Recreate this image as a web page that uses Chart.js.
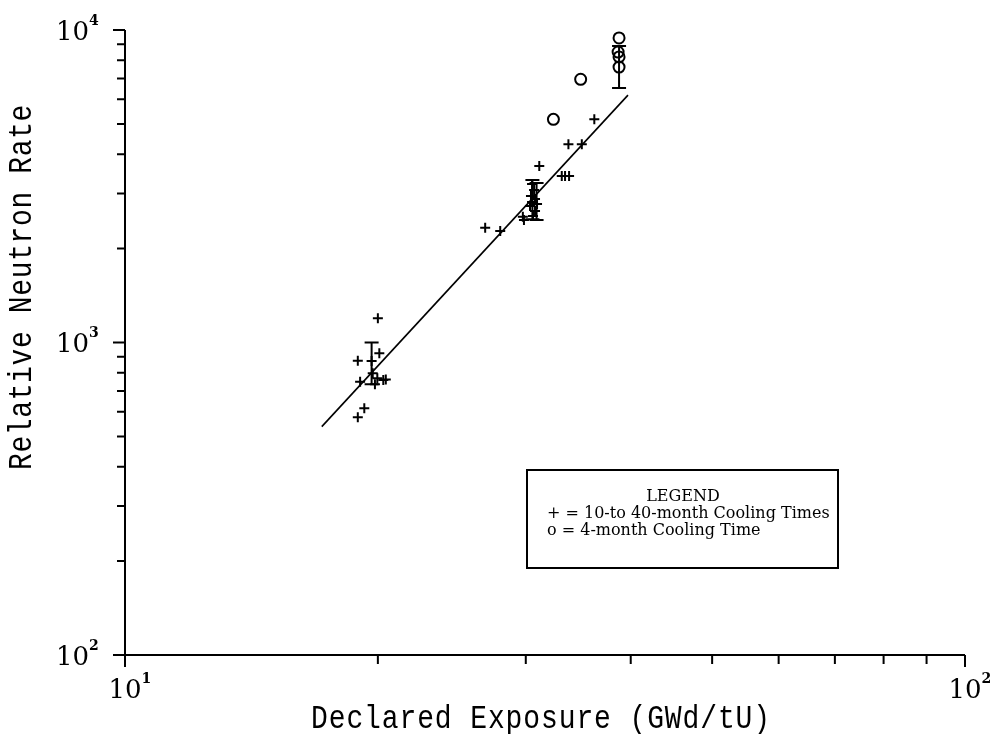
<!DOCTYPE html>
<html><head><meta charset="utf-8">
<script src="https://cdn.jsdelivr.net/npm/chart.js@4/dist/chart.umd.min.js"></script>
<style>html,body{margin:0;padding:0;background:#fff}canvas{display:block}</style>
</head><body>
<canvas id="c" width="990" height="734"></canvas>
<script>
// ---- data ----
const plusX = [20.0, 20.08, 18.93, 19.66, 19.72, 19.05, 19.84, 19.97, 20.30, 19.27, 18.93, 20.44,
               26.84, 27.97, 29.76, 29.85, 31.13, 33.11, 33.41, 33.78,
               30.52, 30.69, 30.43, 30.77, 30.52, 30.94, 30.35, 30.77, 30.60,
               36.20, 33.72, 34.98];
const plusY = [1195, 923, 874, 872, 797, 749, 735, 768, 759, 616, 576, 762,
               2330, 2275, 2527, 2466, 3671, 3410, 3410, 3410,
               3215, 3076, 2943, 2879, 2816, 2775, 2734, 2635, 2540,
               5178, 4307, 4307];
const circX = [32.36, 34.87, 38.74, 38.64, 38.74, 38.74];
const circY = [5178, 6954, 9430, 8500, 8200, 7610];
const errX = [19.66, 30.55, 30.90, 38.74];
const errLow = [735, 2480, 2466, 6520];
const errHigh = [1000, 3310, 3240, 8890];
const fitX = [17.15, 39.7];
const fitY = [538, 6190];
const xDecades = [10, 100];
const yDecades = [100, 1000, 10000];
const xTitle = 'Declared Exposure (GWd/tU)';
const yTitle = 'Relative Neutron Rate';
const legendTitle = 'LEGEND';
const legendLines = ['+ = 10-to 40-month Cooling Times', 'o = 4-month Cooling Time'];

const toPts = (xs, ys) => xs.map((v, i) => ({x: v, y: ys[i]}));

function minorTicks(decades) {
  const out = [];
  for (let i = 0; i < decades.length - 1; i++)
    for (let k = 2; k <= 9; k++) out.push(decades[i] * k);
  return out;
}

function pow10Label(ctx, v, px, py, align) {
  const exp = String(Math.round(Math.log10(v)));
  ctx.font = '26px "DejaVu Serif"';
  const wb = ctx.measureText('10').width;
  ctx.font = '14px "DejaVu Serif"';
  const we = ctx.measureText(exp).width;
  let x0;
  if (align === 'right') x0 = px - wb - we - 1;
  else x0 = px - wb / 2;
  ctx.textAlign = 'left';
  ctx.textBaseline = 'middle';
  ctx.font = '26px "DejaVu Serif"';
  ctx.fillText('10', x0, py);
  ctx.font = 'bold 14px "DejaVu Serif"';
  ctx.fillText(exp, x0 + wb, py - 12);
}

function spacedText(ctx, text, cx, cy, target) {
  ctx.letterSpacing = '0px';
  const w = ctx.measureText(text).width;
  const ls = (target - w) / (text.length);
  ctx.letterSpacing = ls.toFixed(2) + 'px';
  const w2 = ctx.measureText(text).width;
  ctx.save();
  ctx.translate(cx, cy);
  ctx.scale(1, 1.18);
  ctx.textAlign = 'left';
  ctx.textBaseline = 'middle';
  ctx.fillText(text, -w2 / 2, 0);
  ctx.restore();
  ctx.letterSpacing = '0px';
}

const framePlugin = {
  id: 'frame',
  afterDatasetsDraw(chart) {
    const {ctx, scales: {x, y}} = chart;
    const left = x.getPixelForValue(xDecades[0]);
    const right = x.getPixelForValue(xDecades[xDecades.length - 1]);
    const bottom = y.getPixelForValue(yDecades[0]);
    const top = y.getPixelForValue(yDecades[yDecades.length - 1]);
    ctx.save();
    ctx.strokeStyle = '#000';
    ctx.fillStyle = '#000';
    ctx.lineWidth = 2;
    ctx.lineCap = 'butt';
    // error bars
    errX.forEach((xv, i) => {
      const px = x.getPixelForValue(xv);
      const p1 = y.getPixelForValue(errLow[i]);
      const p2 = y.getPixelForValue(errHigh[i]);
      ctx.beginPath();
      ctx.moveTo(px, p1); ctx.lineTo(px, p2);
      ctx.moveTo(px - 7, p1); ctx.lineTo(px + 7, p1);
      ctx.moveTo(px - 7, p2); ctx.lineTo(px + 7, p2);
      ctx.stroke();
    });
    // axes lines
    ctx.beginPath();
    ctx.moveTo(left - 12, bottom); ctx.lineTo(right, bottom);
    ctx.moveTo(left, bottom + 12); ctx.lineTo(left, top);
    // y ticks (outside, left)
    yDecades.forEach(v => { const p = y.getPixelForValue(v); ctx.moveTo(left - 12, p); ctx.lineTo(left, p); });
    minorTicks(yDecades).forEach(v => { const p = y.getPixelForValue(v); ctx.moveTo(left - 8, p); ctx.lineTo(left, p); });
    // x ticks (outside, down)
    xDecades.forEach(v => { const p = x.getPixelForValue(v); ctx.moveTo(p, bottom); ctx.lineTo(p, bottom + 12); });
    minorTicks(xDecades).forEach(v => { const p = x.getPixelForValue(v); ctx.moveTo(p, bottom); ctx.lineTo(p, bottom + 9); });
    ctx.stroke();
    // tick labels
    yDecades.forEach(v => pow10Label(ctx, v, left - 26, y.getPixelForValue(v) + 3, 'right'));
    xDecades.forEach(v => pow10Label(ctx, v, x.getPixelForValue(v), bottom + 36, 'center'));
    // axis titles
    ctx.font = '28px "Liberation Mono"';
    spacedText(ctx, xTitle, 541, 719, 460);
    ctx.save();
    ctx.translate(22, 287);
    ctx.rotate(-Math.PI / 2);
    spacedText(ctx, yTitle, 0, 0, 366);
    ctx.restore();
    // legend box
    ctx.lineWidth = 2;
    ctx.strokeRect(527, 470, 311, 98);
    ctx.font = '16px "DejaVu Serif"';
    ctx.textBaseline = 'middle';
    ctx.textAlign = 'center';
    ctx.fillText(legendTitle, 683, 497);
    ctx.textAlign = 'left';
    legendLines.forEach((t, i) => ctx.fillText(t, 547, 514 + i * 17));
    ctx.restore();
  }
};

new Chart(document.getElementById('c'), {
  type: 'scatter',
  data: {
    datasets: [
      { type: 'line', data: toPts(fitX, fitY), borderColor: '#000', borderWidth: 1.6,
        pointRadius: 0, fill: false, tension: 0 },
      { data: toPts(plusX, plusY), pointStyle: 'cross', pointRadius: 5, borderWidth: 2,
        borderColor: '#000', backgroundColor: '#000' },
      { data: toPts(circX, circY), pointStyle: 'circle', pointRadius: 5.5, borderWidth: 2,
        borderColor: '#000', backgroundColor: 'rgba(255,255,255,0)' }
    ]
  },
  options: {
    responsive: false,
    animation: false,
    devicePixelRatio: 1,
    events: [],
    layout: { padding: { left: 125, right: 25, top: 30, bottom: 79 } },
    plugins: { legend: { display: false }, tooltip: { enabled: false } },
    scales: {
      x: { type: 'logarithmic', min: 10, max: 100, display: false },
      y: { type: 'logarithmic', min: 100, max: 10000, display: false }
    }
  },
  plugins: [framePlugin]
});
</script>
</body></html>
